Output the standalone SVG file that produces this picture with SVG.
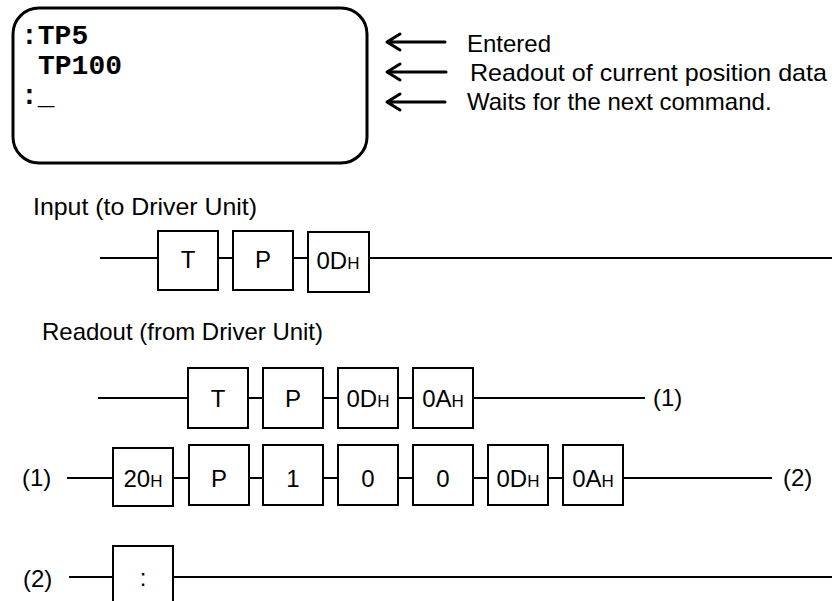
<svg xmlns="http://www.w3.org/2000/svg" width="832" height="601" viewBox="0 0 832 601">
<style>
.bg{fill:#fff}
.box{fill:#fff;stroke:#000;stroke-width:2}
.ln{fill:none;stroke:#000;stroke-width:2}
.arr{fill:none;stroke:#000;stroke-width:3;stroke-linecap:round;stroke-linejoin:round}
.t{font-family:"Liberation Sans",Arial,sans-serif;font-size:24px;fill:#000}
.b{font-family:"Liberation Sans",Arial,sans-serif;font-size:24px;fill:#000;text-anchor:middle}
.s{font-size:17px}
.m{font-family:"Liberation Mono","Courier New",monospace;font-weight:bold;font-size:28px;fill:#000}
</style>
<rect class="bg" width="832" height="601"/>
<g id="screen">
<rect x="13" y="8" width="354" height="155" rx="26" ry="26" fill="#fff" stroke="#000" stroke-width="3"/>
<text class="m" x="21" y="44">:TP5</text>
<text class="m" x="38" y="74">TP100</text>
<text class="m" x="21" y="104">:_</text>
</g>
<g id="annotations">
<path class="arr" d="M445,42 H388 M400,34 L387,42 L400,50"/>
<path class="arr" d="M446,72 H388 M400,64 L387,72 L400,80"/>
<path class="arr" d="M445,102 H388 M400,94 L387,102 L400,110"/>
<text class="t" x="467" y="52">Entered</text>
<text class="t" x="470" y="81" textLength="357" lengthAdjust="spacingAndGlyphs">Readout of current position data</text>
<text class="t" x="467" y="110">Waits for the next command.</text>
</g>
<g id="titles">
<text class="t" x="33" y="215" textLength="224" lengthAdjust="spacingAndGlyphs">Input (to Driver Unit)</text>
<text class="t" x="42" y="340" textLength="281" lengthAdjust="spacingAndGlyphs">Readout (from Driver Unit)</text>
</g>
<g id="connectors">
<line class="ln" x1="100" y1="258" x2="832" y2="258"/>
<line class="ln" x1="98" y1="398" x2="645" y2="398"/>
<line class="ln" x1="67" y1="478" x2="772" y2="478"/>
<line class="ln" x1="69" y1="577" x2="832" y2="577"/>
</g>
<g id="labels">
<text class="t" x="653" y="406">(1)</text>
<text class="t" x="22" y="486">(1)</text>
<text class="t" x="783" y="486">(2)</text>
<text class="t" x="23" y="587">(2)</text>
</g>
<g id="in-T"><rect class="box" x="158" y="231" width="60" height="59"/><text class="b" x="188" y="268">T</text></g>
<g id="in-P"><rect class="box" x="233" y="231" width="60" height="59"/><text class="b" x="263" y="268">P</text></g>
<g id="in-0D"><rect class="box" x="308" y="232" width="61" height="60"/><text class="b" x="338" y="269">0D<tspan class="s">H</tspan></text></g>
<g id="r1-T"><rect class="box" x="188" y="368" width="60" height="60"/><text class="b" x="218" y="407">T</text></g>
<g id="r1-P"><rect class="box" x="263" y="368" width="60" height="60"/><text class="b" x="293" y="407">P</text></g>
<g id="r1-0D"><rect class="box" x="338" y="368" width="60" height="60"/><text class="b" x="368" y="407">0D<tspan class="s">H</tspan></text></g>
<g id="r1-0A"><rect class="box" x="413" y="368" width="60" height="60"/><text class="b" x="443" y="407">0A<tspan class="s">H</tspan></text></g>
<g id="r2-20"><rect class="box" x="113" y="448" width="60" height="58"/><text class="b" x="143" y="487">20<tspan class="s">H</tspan></text></g>
<g id="r2-P"><rect class="box" x="189" y="445" width="60" height="60"/><text class="b" x="219" y="487">P</text></g>
<g id="r2-1"><rect class="box" x="263" y="445" width="60" height="60"/><text class="b" x="293" y="487">1</text></g>
<g id="r2-0a"><rect class="box" x="338" y="445" width="60" height="60"/><text class="b" x="368" y="487">0</text></g>
<g id="r2-0b"><rect class="box" x="413" y="445" width="60" height="60"/><text class="b" x="443" y="487">0</text></g>
<g id="r2-0D"><rect class="box" x="488" y="445" width="60" height="60"/><text class="b" x="518" y="487">0D<tspan class="s">H</tspan></text></g>
<g id="r2-0A"><rect class="box" x="563" y="445" width="60" height="60"/><text class="b" x="593" y="487">0A<tspan class="s">H</tspan></text></g>
<g id="r3-colon"><rect class="box" x="113" y="546" width="60" height="60"/><text class="b" x="143" y="586">:</text></g>
</svg>
